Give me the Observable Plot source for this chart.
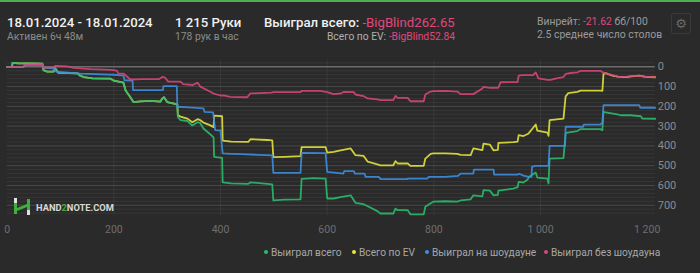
<!DOCTYPE html>
<html><head><meta charset="utf-8">
<script src="https://cdn.jsdelivr.net/npm/d3@7"></script>
<script src="https://cdn.jsdelivr.net/npm/@observablehq/plot@0.6"></script>
<style>
html,body{margin:0;padding:0;background:#2a2a2a;width:700px;height:273px;overflow:hidden;font-family:Roboto,"Noto Sans",sans-serif;}
#topbar{position:absolute;left:0;top:0;width:700px;height:2px;background:#4caf50;}
.t{position:absolute;white-space:nowrap;line-height:1;}
.big{font-size:13.2px;color:#f0f0f0;font-weight:500;}
.small{font-size:10.3px;color:#8c8c8c;}
.mid{font-size:10.4px;color:#9a9a9a;}
.pink{color:#e0487e;}
#chart{position:absolute;left:0;top:56px;}
#gear{position:absolute;left:671px;top:13px;width:18px;height:19px;border:1px solid #3a3a3a;border-radius:2px;color:#6a6a6a;font-size:13px;line-height:19px;text-align:center;font-family:"DejaVu Sans";}
.leg{position:absolute;top:247px;font-size:10.2px;color:#a8a8a8;white-space:nowrap;line-height:12px;}
.dot{display:inline-block;width:4px;height:4px;border-radius:50%;margin-right:3px;vertical-align:middle;position:relative;top:-1px;}
#wm{position:absolute;left:13px;top:197px;}
#wmt{position:absolute;left:36px;top:203px;font-size:9.3px;font-weight:700;color:#d8d8d8;line-height:1;}
</style></head>
<body>
<div id="topbar"></div>
<div class="t big" style="left:7px;top:15.5px">18.01.2024 - 18.01.2024</div>
<div class="t small" style="left:7px;top:31.8px">Активен 6ч 48м</div>
<div class="t big" style="left:175px;top:15.5px">1 215 Руки</div>
<div class="t small" style="left:175px;top:31.8px">178 рук в час</div>
<div class="t big" style="left:264px;top:15.5px">Выиграл всего: <span class="pink" style="font-weight:400">-BigBlind262.65</span></div>
<div class="t small" style="right:245px;top:31.8px;color:#b0b0b0">Всего по EV: <span class="pink">-BigBlind52.84</span></div>
<div class="t mid" style="left:537px;top:16.5px">Винрейт: <span class="pink">-21.62</span> бб/100</div>
<div class="t mid" style="left:537px;top:30px">2.5 среднее число столов</div>
<div id="gear">⚙</div>
<div id="chart"></div>
<svg id="wm" width="20" height="20" viewBox="0 0 20 20">
  <rect x="1" y="1" width="3" height="5" fill="#e0e0e0"/>
  <rect x="1" y="6" width="3" height="11" fill="#3fae3a"/>
  <rect x="14" y="2" width="3" height="11" fill="#3fae3a"/>
  <polygon points="4,11 14,7 14,10 4,14" fill="#3fae3a"/>
  <rect x="14" y="13" width="3" height="5" fill="#e0e0e0"/>
</svg>
<div id="wmt">HAND<span style="color:#3fae3a">2</span>NOTE.COM</div>
<div class="leg" style="left:264px"><span class="dot" style="background:#2bbd6e"></span>Выиграл всего</div>
<div class="leg" style="left:352px"><span class="dot" style="background:#e6e63c"></span>Всего по EV</div>
<div class="leg" style="left:425px"><span class="dot" style="background:#3d8fe0"></span>Выиграл на шоудауне</div>
<div class="leg" style="left:544px"><span class="dot" style="background:#d9467c"></span>Выиграл без шоудауна</div>
<script>
const seriesNames = ["Выиграл всего","Всего по EV","Выиграл на шоудауне","Выиграл без шоудауна"];
const seriesColors = ["#2bbd6e","#e6e63c","#3d8fe0","#d9467c"];
const xTicks = [0,200,400,600,800,1000,1200];
const yTicks = [0,-100,-200,-300,-400,-500,-600,-700];

// [hands, big blinds]
const wonTotal = [[0,0],[9,0],[10,20],[20,18],[66,16],[68,-17],[75,-24],[87,-24],[90,-8],[96,-30],[132,-33],[137,-45],[144,-52],[160,-58],[194,-60],[200,-70],[218,-80],[222,-120],[230,-150],[237,-179],[250,-175],[270,-172],[287,-176],[291,-160],[294,-154],[300,-178],[315,-187],[319,-190],[320,-255],[325,-270],[338,-274],[347,-297],[357,-280],[362,-285],[368,-312],[380,-340],[387,-357],[388,-455],[403,-460],[404,-584],[420,-590],[452,-592],[456,-584],[488,-592],[497,-595],[499,-676],[520,-672],[550,-670],[552,-567],[575,-563],[597,-565],[600,-666],[612,-666],[625,-659],[644,-650],[653,-688],[668,-695],[676,-705],[694,-730],[700,-742],[724,-742],[728,-717],[732,-725],[751,-725],[756,-746],[781,-746],[784,-708],[794,-690],[799,-682],[822,-680],[844,-682],[850,-676],[869,-670],[874,-650],[891,-655],[893,-624],[905,-626],[912,-650],[920,-648],[921,-626],[949,-616],[957,-609],[959,-582],[968,-585],[976,-570],[978,-557],[991,-535],[994,-560],[1013,-566],[1015,-590],[1017,-464],[1043,-462],[1047,-337],[1050,-333],[1069,-325],[1075,-315],[1112,-315],[1116,-320],[1118,-228],[1122,-230],[1144,-240],[1150,-245],[1169,-245],[1188,-250],[1191,-262],[1215,-262.65]];

const evTotal = [[0,0],[9,0],[10,20],[20,18],[66,16],[68,-17],[75,-24],[87,-24],[90,-8],[96,-30],[132,-33],[137,-45],[144,-52],[160,-58],[194,-60],[200,-70],[218,-80],[222,-120],[230,-150],[237,-179],[250,-175],[270,-172],[287,-176],[291,-160],[294,-154],[300,-178],[315,-187],[319,-190],[320,-245],[325,-252],[338,-262],[347,-280],[357,-265],[362,-270],[368,-282],[380,-295],[387,-305],[388,-247],[403,-250],[404,-373],[420,-378],[452,-380],[456,-366],[488,-370],[497,-372],[499,-457],[520,-455],[550,-452],[552,-406],[597,-406],[600,-434],[612,-430],[625,-423],[644,-413],[653,-447],[668,-450],[676,-480],[694,-493],[700,-498],[724,-498],[728,-477],[732,-489],[751,-489],[756,-501],[781,-501],[784,-464],[794,-440],[799,-438],[822,-438],[844,-440],[850,-445],[869,-447],[874,-413],[891,-421],[893,-388],[905,-393],[912,-423],[920,-420],[921,-385],[949,-381],[957,-378],[959,-346],[968,-350],[976,-340],[978,-335],[985,-312],[991,-292],[994,-323],[1013,-333],[1015,-349],[1017,-270],[1043,-262],[1047,-150],[1052,-133],[1069,-127],[1075,-120],[1112,-120],[1116,-122],[1118,-36],[1122,-32],[1135,-45],[1145,-50],[1160,-52],[1170,-48],[1185,-45],[1195,-50],[1215,-52.84]];

const wonShowdown = [[0,-2],[30,-2],[34,10],[66,10],[68,-5],[87,-8],[92,-25],[137,-34],[200,-40],[218,-45],[220,-68],[235,-70],[236,-118],[292,-118],[293,-98],[318,-98],[319,-202],[340,-205],[368,-210],[370,-228],[386,-230],[390,-320],[400,-322],[404,-438],[420,-440],[440,-442],[470,-445],[497,-448],[499,-536],[550,-536],[552,-435],[597,-437],[600,-531],[630,-540],[632,-528],[650,-528],[652,-540],[670,-540],[672,-557],[697,-557],[700,-568],[750,-568],[752,-565],[788,-565],[790,-557],[822,-557],[845,-552],[850,-540],[874,-540],[875,-520],[912,-520],[913,-545],[957,-545],[960,-541],[968,-550],[978,-557],[983,-557],[984,-506],[990,-501],[1015,-501],[1017,-400],[1046,-400],[1047,-303],[1080,-303],[1081,-292],[1112,-292],[1116,-282],[1118,-194],[1185,-194],[1187,-207],[1215,-207]];

const wonNoShowdown = [[0,-2],[30,-2],[34,10],[66,12],[68,-5],[87,-2],[90,5],[112,2],[125,-5],[156,-12],[194,-15],[200,-17],[206,-20],[208,-34],[218,-34],[231,-64],[255,-62],[285,-62],[291,-51],[296,-55],[302,-75],[325,-75],[330,-88],[348,-92],[357,-80],[362,-100],[380,-125],[387,-135],[400,-145],[406,-145],[418,-152],[450,-154],[456,-134],[462,-134],[495,-130],[500,-128],[550,-128],[552,-122],[587,-122],[600,-128],[612,-138],[625,-135],[631,-127],[650,-128],[653,-140],[668,-148],[676,-160],[694,-165],[700,-168],[724,-168],[728,-147],[732,-157],[751,-157],[756,-174],[781,-174],[784,-140],[794,-125],[799,-123],[822,-122],[844,-125],[850,-138],[874,-138],[891,-110],[893,-101],[905,-106],[921,-106],[925,-78],[957,-77],[959,-45],[965,-42],[986,-42],[991,-28],[996,-58],[1013,-66],[1019,-66],[1030,-58],[1043,-52],[1047,-36],[1060,-30],[1069,-28],[1075,-20],[1112,-20],[1118,-30],[1122,-32],[1135,-42],[1145,-50],[1160,-51],[1170,-47],[1185,-44],[1195,-50],[1215,-52]];

const allSeries = [evTotal, wonTotal, wonShowdown, wonNoShowdown];
const order = [1,0,2,3];

const nf = d3.formatLocale({decimal:",",thousands:"\u00a0",grouping:[3],currency:["",""]}).format(",");
const minorGrid = d3.range(-740, 21, 20);
const majorGrid = yTicks.filter(d => d !== 0);

const lineMarks = order.map((si, k) =>
  Plot.line(allSeries[k], {x: d => d[0], y: d => d[1], stroke: seriesColors[si], strokeWidth: 1.8, strokeOpacity: 0.88, curve: "linear"})
);

const chart = Plot.plot({
  width: 700, height: 185,
  marginTop: 4, marginBottom: 26, marginLeft: 6.7, marginRight: 45.3,
  style: {background: "transparent", color: "#7a7a7a", fontFamily: "Roboto, sans-serif", fontSize: "11px"},
  x: {domain: [0, 1215], label: null},
  y: {domain: [-752, 32], label: null},
  marks: [
    Plot.ruleY(minorGrid, {stroke: "#ffffff", strokeOpacity: 0.06}),
    Plot.ruleY(majorGrid, {stroke: "#ffffff", strokeOpacity: 0.1}),
    Plot.ruleX(xTicks.filter(d => d > 0 && d < 1200), {stroke: "#ffffff", strokeOpacity: 0.06}),
    Plot.ruleY([0], {stroke: "#8a8a8a", strokeWidth: 1}),
    ...lineMarks,
    Plot.axisX({ticks: xTicks, tickFormat: nf, tickSize: 0, tickPadding: 10, fill: "#6f6f6f", fontSize: 10.5, label: null}),
    Plot.axisY({anchor: "right", ticks: yTicks, tickFormat: d => Math.abs(d), tickSize: 0, tickPadding: 2.5, fill: "#8a8a8a", fontSize: 11, label: null})
  ]
});
document.getElementById("chart").appendChild(chart);
</script>
</body></html>
